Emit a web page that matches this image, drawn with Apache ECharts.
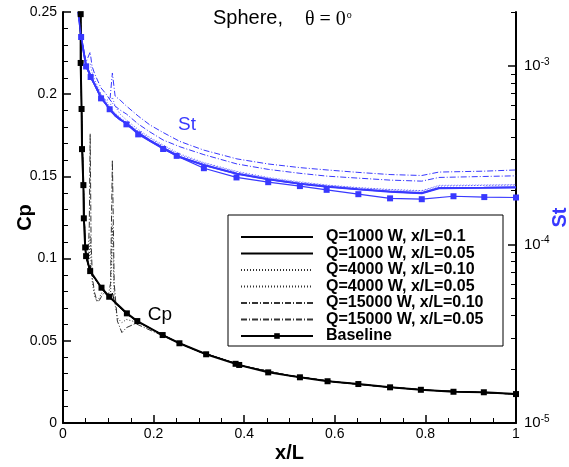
<!DOCTYPE html>
<html><head><meta charset="utf-8">
<script src="https://cdn.jsdelivr.net/npm/echarts@6/dist/echarts.min.js"></script>
<style>html,body{margin:0;padding:0;background:#fff}#c{width:569px;height:467px}</style>
</head><body><div id="c"></div>
<script>
// ---------- data ----------
const legendNames = ['Q=1000 W, x/L=0.1','Q=1000 W, x/L=0.05','Q=4000 W, x/L=0.10','Q=4000 W, x/L=0.05','Q=15000 W, x/L=0.10','Q=15000 W, x/L=0.05','Baseline'];

// Cp baseline (markers)
const cpBaseX = [0.039,0.039,0.041,0.042,0.045,0.046,0.049,0.051,0.060,0.085,0.102,0.141,0.164,0.220,0.257,0.316,0.381,0.389,0.453,0.523,0.584,0.652,0.722,0.790,0.862,0.929,1.0];
const cpBase  = [0.2487,0.219,0.191,0.1666,0.1447,0.1245,0.1068,0.1015,0.0924,0.0823,0.0768,0.0667,0.0620,0.0535,0.0485,0.0418,0.0360,0.0353,0.0308,0.0278,0.0254,0.0237,0.0217,0.0202,0.0190,0.0187,0.0176];

// Cp heated cases
const cpX = [0.039,0.041,0.045,0.049,0.051,0.055,0.058,0.060,0.062,0.065,0.070,0.075,0.080,0.085,0.090,0.100,0.105,0.109,0.113,0.120,0.130,0.140,0.160,0.200,0.250,0.300,0.400,0.500,0.600,0.700,0.800,0.900,1.000];
const cpQ1000_010 = [0.249,0.190,0.145,0.107,0.1015,0.097,0.094,0.0924,0.091,0.0895,0.088,0.086,0.084,0.0823,0.080,0.0775,0.076,0.079,0.0745,0.0715,0.069,0.0667,0.0625,0.0565,0.0494,0.0435,0.0345,0.0288,0.0250,0.0223,0.0200,0.0188,0.0176];
const cpQ1000_005 = [0.249,0.190,0.145,0.107,0.1015,0.097,0.094,0.096,0.0915,0.0895,0.088,0.086,0.084,0.0823,0.080,0.0775,0.076,0.0748,0.0735,0.0715,0.069,0.0667,0.0625,0.0565,0.0494,0.0435,0.0345,0.0288,0.0250,0.0223,0.0200,0.0188,0.0176];
const cpQ4000_010 = [0.249,0.190,0.145,0.107,0.1015,0.097,0.094,0.0924,0.091,0.0895,0.088,0.086,0.084,0.0823,0.080,0.0775,0.078,0.120,0.075,0.064,0.061,0.063,0.0615,0.0565,0.0494,0.0435,0.0345,0.0288,0.0250,0.0223,0.0200,0.0188,0.0176];
const cpQ4000_005 = [0.249,0.190,0.145,0.107,0.1015,0.097,0.100,0.114,0.095,0.085,0.077,0.074,0.076,0.079,0.0795,0.0775,0.076,0.0748,0.0735,0.0715,0.069,0.0667,0.0625,0.0565,0.0494,0.0435,0.0345,0.0288,0.0250,0.0223,0.0200,0.0188,0.0176];
const cpQ15000_010 = [0.249,0.190,0.145,0.107,0.1015,0.097,0.094,0.0924,0.091,0.0895,0.088,0.086,0.084,0.0823,0.080,0.0775,0.085,0.160,0.085,0.062,0.055,0.058,0.0605,0.0555,0.0494,0.0435,0.0345,0.0288,0.0250,0.0223,0.0200,0.0188,0.0176];
const cpQ15000_005 = [0.249,0.190,0.145,0.107,0.1015,0.097,0.120,0.176,0.110,0.088,0.079,0.074,0.0745,0.077,0.079,0.0775,0.076,0.0748,0.0735,0.0715,0.069,0.0667,0.0625,0.0565,0.0494,0.0435,0.0345,0.0288,0.0250,0.0223,0.0200,0.0188,0.0176];

// St baseline (markers)
const stBaseX = [0.034,0.040,0.051,0.061,0.084,0.103,0.140,0.166,0.221,0.251,0.311,0.383,0.453,0.523,0.582,0.652,0.722,0.792,0.862,0.930,1.0];
const stBase  = [2.00e-3,1.449e-3,9.91e-4,8.65e-4,6.57e-4,5.71e-4,4.70e-4,4.13e-4,3.42e-4,3.13e-4,2.67e-4,2.37e-4,2.23e-4,2.12e-4,2.02e-4,1.91e-4,1.81e-4,1.79e-4,1.86e-4,1.84e-4,1.83e-4];

// St heated cases
const stX = [0.034,0.040,0.051,0.055,0.060,0.064,0.070,0.084,0.095,0.104,0.109,0.115,0.126,0.140,0.166,0.192,0.221,0.258,0.311,0.384,0.453,0.523,0.583,0.651,0.722,0.792,0.830,0.929,1.000];
const stQ1000_010 = [2.00e-3,1.449e-3,9.97e-4,9.47e-4,8.82e-4,8.38e-4,7.85e-4,6.64e-4,6.11e-4,5.65e-4,5.52e-4,5.27e-4,5.00e-4,4.75e-4,4.20e-4,3.81e-4,3.46e-4,3.08e-4,2.78e-4,2.48e-4,2.31e-4,2.18e-4,2.10e-4,2.03e-4,1.97e-4,1.93e-4,2.06e-4,2.07e-4,2.08e-4];
const stQ1000_005 = [2.00e-3,1.449e-3,9.97e-4,9.50e-4,8.95e-4,8.40e-4,7.86e-4,6.66e-4,6.12e-4,5.66e-4,5.47e-4,5.27e-4,5.00e-4,4.76e-4,4.21e-4,3.82e-4,3.47e-4,3.09e-4,2.79e-4,2.49e-4,2.32e-4,2.19e-4,2.11e-4,2.04e-4,1.98e-4,1.94e-4,2.07e-4,2.08e-4,2.09e-4];
const stQ4000_010 = [2.00e-3,1.449e-3,9.97e-4,9.53e-4,8.88e-4,8.43e-4,7.90e-4,6.68e-4,6.15e-4,5.87e-4,6.68e-4,5.95e-4,5.37e-4,4.97e-4,4.40e-4,3.97e-4,3.60e-4,3.21e-4,2.87e-4,2.56e-4,2.37e-4,2.24e-4,2.15e-4,2.08e-4,2.03e-4,2.00e-4,2.14e-4,2.15e-4,2.16e-4];
const stQ4000_005 = [2.00e-3,1.449e-3,1.023e-3,9.97e-4,1.03e-3,9.23e-4,8.32e-4,6.95e-4,6.35e-4,5.87e-4,5.65e-4,5.44e-4,5.13e-4,4.84e-4,4.31e-4,3.92e-4,3.55e-4,3.16e-4,2.85e-4,2.54e-4,2.35e-4,2.22e-4,2.14e-4,2.07e-4,2.02e-4,1.99e-4,2.12e-4,2.14e-4,2.15e-4];
const stQ15000_010 = [2.00e-3,1.449e-3,1.010e-3,9.65e-4,8.99e-4,8.54e-4,8.01e-4,6.86e-4,6.35e-4,6.60e-4,9.11e-4,6.77e-4,6.43e-4,5.95e-4,5.23e-4,4.66e-4,4.23e-4,3.77e-4,3.37e-4,3.01e-4,2.82e-4,2.69e-4,2.61e-4,2.53e-4,2.46e-4,2.43e-4,2.54e-4,2.57e-4,2.61e-4];
const stQ15000_005 = [2.00e-3,1.449e-3,1.050e-3,1.03e-3,1.194e-3,9.97e-4,8.99e-4,7.51e-4,6.95e-4,6.43e-4,6.18e-4,5.95e-4,5.65e-4,5.37e-4,4.72e-4,4.26e-4,3.84e-4,3.52e-4,3.18e-4,2.82e-4,2.63e-4,2.50e-4,2.41e-4,2.35e-4,2.29e-4,2.26e-4,2.37e-4,2.40e-4,2.42e-4];

// axis ticks
const stMajorTicks = [1e-5,1e-4,1e-3];
const stMinorTicks = [2e-5,3e-5,4e-5,5e-5,6e-5,7e-5,8e-5,9e-5,2e-4,3e-4,4e-4,5e-4,6e-4,7e-4,8e-4,9e-4,2e-3];

// ---------- chart ----------
const pair = (xs, ys) => xs.map((x, i) => [x, ys[i]]);
const FONT = 'Liberation Sans, Arial, Helvetica, sans-serif';
const SERIF = '"Liberation Serif", "Times New Roman", serif';
const BLUE = '#3838ff';
const DOT = [1, 2];
const DASHDOT = [6, 2, 1, 2];

const cpStyles = [
  {type:'solid', width:1, color:'#000'},
  {type:'solid', width:1, color:'#000'},
  {type:DOT, width:1, color:'#333'},
  {type:DOT, width:1, color:'#333'},
  {type:DASHDOT, width:1, color:'#333'},
  {type:DASHDOT, width:1, color:'#333'}
];
const stStyles = [
  {type:'solid', width:1.8, color:BLUE},
  {type:'solid', width:1.8, color:BLUE},
  {type:DOT, width:1, color:'#5a5aff'},
  {type:DOT, width:1, color:'#5a5aff'},
  {type:DASHDOT, width:1, color:BLUE},
  {type:DASHDOT, width:1, color:BLUE}
];
const cpSets = [cpQ1000_010, cpQ1000_005, cpQ4000_010, cpQ4000_005, cpQ15000_010, cpQ15000_005];
const stSets = [stQ1000_010, stQ1000_005, stQ4000_010, stQ4000_005, stQ15000_010, stQ15000_005];

const series = [];
cpSets.forEach((ys, i) => {
  series.push({
    name: legendNames[i], type: 'line', xAxisIndex: 0, yAxisIndex: 0,
    data: pair(cpX, ys), symbol: 'none', lineStyle: cpStyles[i], itemStyle: {color: cpStyles[i].color},
    z: 3
  });
});
series.push({
  name: 'Baseline', type: 'line', yAxisIndex: 0, data: pair(cpBaseX, cpBase),
  symbol: 'rect', symbolSize: 6, lineStyle: {color:'#000', width:2}, itemStyle: {color:'#000'}, z: 4
});
stSets.forEach((ys, i) => {
  series.push({
    name: 'St ' + legendNames[i], type: 'line', yAxisIndex: 2,
    data: pair(stX, ys), symbol: 'none', lineStyle: stStyles[i], itemStyle: {color: BLUE}, z: 3
  });
});
series.push({
  name: 'St Baseline', type: 'line', yAxisIndex: 2, data: pair(stBaseX, stBase).map((d, i) => i === 0 ? {value: d, symbol: 'none'} : d),
  symbol: 'rect', symbolSize: 6, lineStyle: {color: BLUE, width: 1.2}, itemStyle: {color: BLUE}, z: 4
});

const legendData = legendNames.map(n => n === 'Baseline' ? {name: n} : {name: n, itemStyle: {opacity: 0}});

const chart = echarts.init(document.getElementById('c'), null, {renderer: 'canvas'});
chart.setOption({
  animation: false,
  backgroundColor: '#fff',
  grid: {left: 63, right: 53, top: 12, bottom: 44, containLabel: false, outerBoundsMode: 'none'},
  legend: {
    data: legendData, orient: 'vertical', left: 228, top: 215,
    itemWidth: 72, itemHeight: 7, itemGap: 0.5,
    padding: [14, 5, 2, 12],
    borderColor: '#000', borderWidth: 1, backgroundColor: '#fff',
    selectedMode: false,
    textStyle: {fontFamily: FONT, fontWeight: 'bold', fontSize: 16, color: '#000', lineHeight: 14, width: 172, padding: [0,0,0,8]}
  },
  xAxis: {
    type: 'value', min: 0, max: 1, interval: 0.2,
    name: 'x/L', nameLocation: 'middle', nameGap: 20, nameMoveOverlap: false,
    nameTextStyle: {fontFamily: FONT, fontWeight: 'bold', fontSize: 20, color: '#000'},
    axisLine: {lineStyle: {color: '#000', width: 2}},
    axisTick: {inside: true, length: 8, lineStyle: {color: '#000', width: 1.5}},
    minorTick: {show: true, splitNumber: 4, length: 5, lineStyle: {color: '#000', width: 1}},
    axisLabel: {fontFamily: FONT, fontSize: 14, color: '#000', margin: 4},
    splitLine: {show: false}
  },
  yAxis: [
    {
      type: 'value', min: 0, max: 0.25, interval: 0.05, position: 'left',
      name: 'Cp', nameLocation: 'middle', nameGap: 28, nameRotate: 90, nameMoveOverlap: false,
      nameTextStyle: {fontFamily: FONT, fontWeight: 'bold', fontSize: 20, color: '#000'},
      axisLine: {show: true, lineStyle: {color: '#000', width: 2}},
      axisTick: {inside: true, length: 8, lineStyle: {color: '#000', width: 1.5}},
      minorTick: {show: true, splitNumber: 5, length: 5, lineStyle: {color: '#000', width: 1}},
      axisLabel: {fontFamily: FONT, fontSize: 14, color: '#000', margin: 6},
      splitLine: {show: false}
    },
    {
      type: 'log', logBase: 10, min: 1e-5, max: 2e-3, position: 'right',
      axisLine: {show: false},
      axisTick: {show: true, inside: true, length: 5, customValues: stMinorTicks, lineStyle: {color: '#000', width: 1}},
      axisLabel: {show: false},
      splitLine: {show: false}
    },
    {
      type: 'log', logBase: 10, min: 1e-5, max: 2e-3, position: 'right',
      name: 'St', nameLocation: 'middle', nameGap: 34, nameRotate: 90, nameMoveOverlap: false,
      nameTextStyle: {fontFamily: FONT, fontWeight: 'bold', fontSize: 20, color: BLUE},
      axisLine: {show: true, lineStyle: {color: '#000', width: 2}},
      axisTick: {show: true, inside: true, length: 8, customValues: stMajorTicks, lineStyle: {color: '#000', width: 1.5}},
      axisLabel: {
        margin: 8, customValues: stMajorTicks,
        formatter: v => '{b|10}{s|' + Math.round(Math.log10(v)) + '}',
        rich: {
          b: {fontFamily: FONT, fontSize: 15, color: '#000', lineHeight: 18},
          s: {fontFamily: FONT, fontSize: 10, color: '#000', verticalAlign: 'top', lineHeight: 18}
        }
      },
      splitLine: {show: false}
    }
  ],
  graphic: [
    {type: 'text', x: 213, y: 28, style: {text: 'Sphere,', font: '20px ' + FONT, fill: '#000', textVerticalAlign: 'bottom'}},
    {type: 'text', x: 305, y: 10, style: {
      text: '{t|θ = 0}{s|o}',
      rich: {
        t: {fontFamily: SERIF, fontSize: 20, color: '#000', lineHeight: 20, verticalAlign: 'bottom'},
        s: {fontFamily: SERIF, fontSize: 10, color: '#000', lineHeight: 20, verticalAlign: 'top', padding: [0,0,0,1]}
      }
    }},
    {type: 'text', x: 187, y: 125, style: {text: 'St', font: '19px ' + FONT, fill: BLUE, textAlign: 'center', textVerticalAlign: 'middle'}},
    {type: 'text', x: 160, y: 315, style: {text: 'Cp', font: '19px ' + FONT, fill: '#000', textAlign: 'center', textVerticalAlign: 'middle'}}
  ],
  series: series
});
</script>
</body></html>
